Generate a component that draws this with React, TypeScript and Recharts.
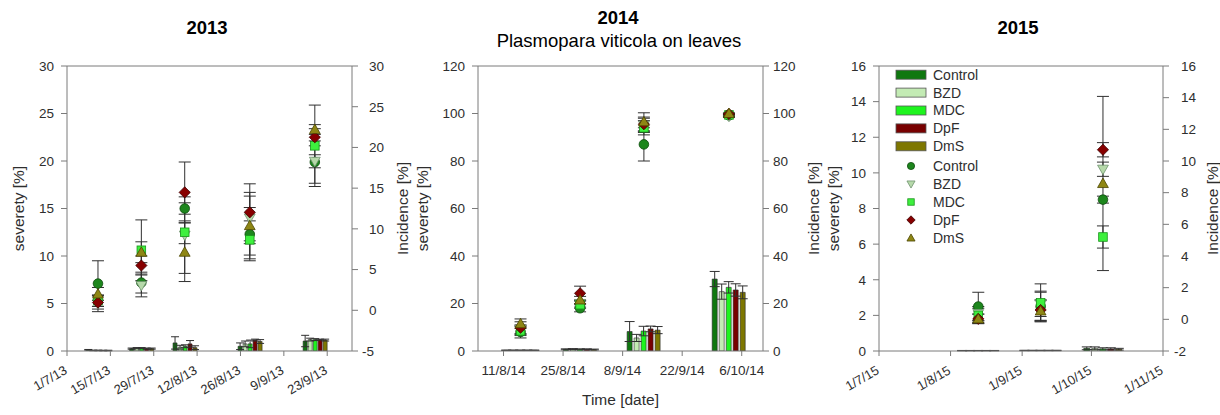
import {
  ComposedChart,
  Bar,
  Scatter,
  XAxis,
  YAxis,
  ErrorBar,
  ReferenceLine,
} from "recharts";

const FONT = "'Liberation Sans', Arial, Helvetica, sans-serif";
const AXIS = "#7a7a7a";
const TEXT = "#2e2e2e";
const ERR = "#303030";

const treatments = ["Control", "BZD", "MDC", "DpF", "DmS"];
const barFill = ["#0f780f", "#c3ebb4", "#1ef41e", "#780000", "#7e7700"];
const dotFill = ["#1d861d", "#b6d9aa", "#3ef03e", "#870000", "#8e8614"];
const dotStroke = ["#0c4a0c", "#6f926f", "#18931a", "#3d0000", "#4a4500"];
const dotShape = ["circle", "down", "square", "diamond", "up"];

// ---- 2013 ----
const dates2013 = ["2013-07-11", "2013-07-25", "2013-08-08", "2013-08-29", "2013-09-19"];
const ticks2013 = ["2013-07-01", "2013-07-15", "2013-07-29", "2013-08-12", "2013-08-26", "2013-09-09", "2013-09-23"];
const range2013 = ["2013-07-01", "2013-10-01"];
const sevTicks2013 = [0, 5, 10, 15, 20, 25, 30];
const incTicks2013 = [-5, 0, 5, 10, 15, 20, 25, 30];
const severity2013 = [
  [0.12, 0.25, 0.85, 0.5, 1.05],
  [0.06, 0.3, 0.4, 0.75, 1.2],
  [0.06, 0.3, 0.5, 0.75, 1.2],
  [0.05, 0.25, 0.75, 1.15, 1.2],
  [0.05, 0.25, 0.35, 1.0, 1.15],
];
const severityErr2013 = [
  [0.04, 0.06, 0.65, 0.35, 0.6],
  [0.03, 0.06, 0.2, 0.3, 0.15],
  [0.03, 0.06, 0.15, 0.4, 0.1],
  [0.03, 0.06, 0.35, 0.1, 0.05],
  [0.03, 0.06, 0.2, 0.2, 0.1],
];
const incidence2013 = [
  [3.28, 3.4, 12.5, 9.35, 18.2],
  [0.83, 3.05, 9.23, 11.33, 18.3],
  [1.18, 7.37, 9.58, 8.65, 20.2],
  [0.95, 5.5, 14.48, 12.03, 21.25],
  [2.0, 7.13, 7.13, 10.4, 22.2],
];
const incidenceErr2013 = [
  [2.8, 1.28, 0.7, 3.27, 2.6],
  [1.0, 1.4, 4.7, 3.15, 0.8],
  [0.7, 3.73, 1.4, 2.33, 5.0],
  [0.8, 1.17, 3.73, 3.5, 1.05],
  [0.8, 1.28, 3.6, 3.62, 0.6],
];

// ---- 2014 ----
const dates2014 = ["2014-08-15", "2014-08-29", "2014-09-13", "2014-10-03"];
const ticks2014 = ["2014-08-11", "2014-08-25", "2014-09-08", "2014-09-22", "2014-10-06"];
const range2014 = ["2014-08-05", "2014-10-11"];
const sevTicks2014 = [0, 20, 40, 60, 80, 100, 120];
const incTicks2014 = [0, 20, 40, 60, 80, 100, 120];
const severity2014 = [
  [0.3, 0.7, 8.2, 30.3],
  [0.3, 0.8, 5.5, 25.0],
  [0.3, 0.7, 8.4, 26.8],
  [0.3, 0.7, 9.3, 25.7],
  [0.3, 0.6, 8.8, 24.7],
];
const severityErr2014 = [
  [0.1, 0.2, 4.2, 3.2],
  [0.1, 0.2, 1.5, 3.2],
  [0.1, 0.2, 2.0, 2.4],
  [0.1, 0.2, 1.2, 2.6],
  [0.1, 0.2, 1.5, 2.7],
];
const incidence2014 = [
  [8.0, 18.0, 87.0, 99.2],
  [9.0, 20.0, 95.0, 98.8],
  [8.5, 19.5, 94.0, 99.4],
  [9.8, 24.3, 95.5, 99.8],
  [11.5, 21.5, 96.5, 100],
];
const incidenceErr2014 = [
  [2.5, 1.5, 7.0, 0.5],
  [2.0, 1.5, 3.0, 0.5],
  [2.0, 1.5, 3.0, 0.5],
  [2.5, 3.0, 3.0, 0.4],
  [2.0, 1.5, 3.8, 0.3],
];

// ---- 2015 ----
const dates2015 = ["2015-08-13", "2015-09-09", "2015-10-06"];
const ticks2015 = ["2015-07-01", "2015-08-01", "2015-09-01", "2015-10-01", "2015-11-01"];
const range2015 = ["2015-07-01", "2015-11-01"];
const sevTicks2015 = [0, 2, 4, 6, 8, 10, 12, 14, 16];
const incTicks2015 = [-2, 0, 2, 4, 6, 8, 10, 12, 14, 16];
const severity2015 = [
  [0.02, 0.03, 0.15],
  [0.02, 0.03, 0.15],
  [0.02, 0.03, 0.12],
  [0.02, 0.03, 0.12],
  [0.02, 0.03, 0.1],
];
const severityErr2015 = [
  [0.01, 0.01, 0.08],
  [0.01, 0.01, 0.08],
  [0.01, 0.01, 0.06],
  [0.01, 0.01, 0.06],
  [0.01, 0.01, 0.05],
];
const incidence2015 = [
  [0.81, 0.81, 7.56],
  [0.36, 0.98, 9.48],
  [0.25, 1.04, 5.2],
  [0.03, 0.59, 10.71],
  [0.03, 0.53, 8.58],
];
const incidenceErr2015 = [
  [0.9, 0.9, 0.22],
  [0.45, 0.8, 0.45],
  [0.45, 1.2, 0.7],
  [0.3, 0.65, 0.45],
  [0.3, 0.65, 5.5],
];

const toTime = (s: string) => Date.parse(s + "T00:00:00Z");
const fmtDate = (t: number) => {
  const d = new Date(t);
  return `${d.getUTCDate()}/${d.getUTCMonth() + 1}/${String(d.getUTCFullYear()).slice(2)}`;
};

function buildRows(dates: string[], sev: number[][], sevErr: number[][], inc: number[][], incErr: number[][]) {
  return dates.map((d, i) => {
    const row: any = { date: toTime(d) };
    treatments.forEach((t, k) => {
      row["sev" + t] = sev[k][i];
      row["sevErr" + t] = sevErr[k][i];
      row["inc" + t] = inc[k][i];
      row["incErr" + t] = incErr[k][i];
    });
    return row;
  });
}

function Marker({ kind, cx, cy, fill, stroke, s = 1 }: any) {
  if (cx == null || cy == null) return null;
  const common = { fill, stroke, strokeWidth: 0.8 };
  if (kind === "circle") return <circle cx={cx} cy={cy} r={4.8 * s} {...common} />;
  if (kind === "square") {
    const h = 4.3 * s;
    return <rect x={cx - h} y={cy - h} width={2 * h} height={2 * h} {...common} />;
  }
  if (kind === "diamond") {
    const h = 5.6 * s;
    return <polygon points={`${cx},${cy - h} ${cx + h},${cy} ${cx},${cy + h} ${cx - h},${cy}`} {...common} />;
  }
  if (kind === "up") {
    const h = 5.4 * s;
    return <polygon points={`${cx},${cy - h} ${cx + h},${cy + h * 0.75} ${cx - h},${cy + h * 0.75}`} {...common} />;
  }
  const h = 5.4 * s;
  return <polygon points={`${cx},${cy + h} ${cx + h},${cy - h * 0.75} ${cx - h},${cy - h * 0.75}`} {...common} />;
}

function SlantTick(props: any) {
  const { x, y, payload } = props;
  const tx = x + 1;
  const ty = y + 15;
  return (
    <text x={tx} y={ty} textAnchor="end" transform={`rotate(-30 ${tx} ${ty})`} fill={TEXT} fontSize={13} fontFamily={FONT}>
      {fmtDate(payload.value)}
    </text>
  );
}

function RightTick(props: any) {
  const { x, y, payload } = props;
  const v = payload.value;
  return (
    <text x={v < 0 ? x - 7 : x} y={y} dy="0.355em" textAnchor="start" fill={TEXT} fontSize={13.5} fontFamily={FONT}>
      {v}
    </text>
  );
}

const labelStyle = { textAnchor: "middle", fontSize: 15.5, fill: TEXT, fontFamily: FONT } as any;

function Panel(p: any) {
  const rows = buildRows(p.dates, p.sev, p.sevErr, p.inc, p.incErr);
  const sevMax = p.sevTicks[p.sevTicks.length - 1];
  const incDomain = [p.incTicks[0], p.incTicks[p.incTicks.length - 1]];
  return (
    <div style={{ position: "absolute", left: p.left, top: 0 }}>
      <ComposedChart
        width={p.width}
        height={415}
        data={rows}
        margin={p.margin}
        barGap={p.barGap}
        style={{ fontFamily: FONT }}
      >
        <XAxis
          dataKey="date"
          type="number"
          domain={[toTime(p.range[0]), toTime(p.range[1])]}
          ticks={p.ticks.map(toTime)}
          interval={0}
          allowDataOverflow
          height={40}
          axisLine={{ stroke: AXIS }}
          tickLine={{ stroke: AXIS }}
          tickSize={5}
          tickMargin={p.slanted ? 2 : 9}
          tick={
            p.slanted
              ? (tp: any) => <SlantTick {...tp} />
              : { fill: TEXT, fontSize: 13.5, fontFamily: FONT }
          }
          tickFormatter={fmtDate}
          label={
            p.xLabel
              ? { value: p.xLabel, position: "bottom", offset: 3, style: labelStyle }
              : undefined
          }
        />
        <YAxis
          yAxisId="left"
          width={45}
          domain={[0, sevMax]}
          ticks={p.sevTicks}
          interval={0}
          allowDataOverflow
          axisLine={{ stroke: AXIS }}
          tickLine={{ stroke: AXIS }}
          tickSize={6}
          tickMargin={7}
          tick={{ fill: TEXT, fontSize: 13.5, fontFamily: FONT }}
          label={{
            value: "severety [%]",
            angle: -90,
            position: "insideLeft",
            offset: p.leftLabelOffset,
            style: labelStyle,
          }}
        />
        <YAxis
          yAxisId="right"
          orientation="right"
          width={p.rightW}
          domain={incDomain}
          ticks={p.incTicks}
          interval={0}
          allowDataOverflow
          axisLine={{ stroke: AXIS }}
          tickLine={{ stroke: AXIS }}
          tickSize={6}
          tickMargin={p.rightTickMargin}
          tick={(tp: any) => <RightTick {...tp} />}
          label={{
            value: "Incidence [%]",
            angle: -90,
            position: "insideLeft",
            offset: p.rightLabelOffset,
            style: labelStyle,
          }}
        />
        <ReferenceLine yAxisId="left" y={sevMax} stroke={AXIS} />
        {treatments.map((t, k) => (
          <Bar
            key={"bar" + t}
            yAxisId="left"
            dataKey={"sev" + t}
            name={t}
            fill={barFill[k]}
            stroke="#262626"
            strokeWidth={0.6}
            barSize={p.barSize}
            isAnimationActive={false}
          >
            <ErrorBar dataKey={"sevErr" + t} width={p.barCap} stroke={ERR} strokeWidth={1} />
          </Bar>
        ))}
        {treatments.map((t, k) => (
          <Scatter
            key={"dot" + t}
            yAxisId="right"
            dataKey={"inc" + t}
            name={t}
            isAnimationActive={false}
            shape={(sp: any) => (
              <Marker kind={dotShape[k]} cx={sp.cx} cy={sp.cy} fill={dotFill[k]} stroke={dotStroke[k]} />
            )}
          >
            <ErrorBar dataKey={"incErr" + t} direction="y" width={6} stroke={ERR} strokeWidth={1} />
          </Scatter>
        ))}
      </ComposedChart>
    </div>
  );
}

function LegendBox() {
  const rowH = 17.9;
  return (
    <svg style={{ position: "absolute", left: 890, top: 60 }} width={130} height={190}>
      {treatments.map((t, k) => (
        <g key={"lb" + t}>
          <rect x={6} y={14.7 + k * rowH - 4.5} width={30} height={9} fill={barFill[k]} stroke="#555" strokeWidth={0.8} />
          <text x={43} y={14.7 + k * rowH} dy="0.355em" fontSize={14} fill={TEXT} fontFamily={FONT}>
            {t}
          </text>
        </g>
      ))}
      {treatments.map((t, k) => (
        <g key={"ld" + t}>
          <Marker kind={dotShape[k]} cx={21} cy={106 + k * 18} fill={dotFill[k]} stroke={dotStroke[k]} s={0.75} />
          <text x={43} y={106 + k * 18} dy="0.355em" fontSize={14} fill={TEXT} fontFamily={FONT}>
            {t}
          </text>
        </g>
      ))}
    </svg>
  );
}

function Title({ x, y, text, bold }: any) {
  return (
    <div
      style={{
        position: "absolute",
        left: x - 200,
        top: y - 11,
        width: 400,
        textAlign: "center",
        fontFamily: FONT,
        fontSize: 18.5,
        lineHeight: "22px",
        fontWeight: bold ? "bold" : "normal",
        color: "#000",
      }}
    >
      {text}
    </div>
  );
}

export default function App() {
  return (
    <div style={{ position: "absolute", left: 0, top: 0, width: 1220, height: 415, background: "#fff", overflow: "hidden" }}>
      <Panel
        left={0}
        width={440}
        margin={{ top: 66, right: 18, bottom: 24, left: 22 }}
        rightW={70}
        leftLabelOffset={-4}
        rightLabelOffset={50}
        rightTickMargin={11}
        slanted
        barSize={4}
        barGap={1}
        barCap={4}
        dates={dates2013}
        ticks={ticks2013}
        range={range2013}
        sevTicks={sevTicks2013}
        incTicks={incTicks2013}
        sev={severity2013}
        sevErr={severityErr2013}
        inc={incidence2013}
        incErr={incidenceErr2013}
      />
      <Panel
        left={410}
        width={440}
        margin={{ top: 66, right: 17, bottom: 24, left: 23 }}
        rightW={70}
        leftLabelOffset={-11}
        rightLabelOffset={50}
        rightTickMargin={4}
        slanted={false}
        barSize={5}
        barGap={2}
        barCap={5}
        xLabel="Time [date]"
        dates={dates2014}
        ticks={ticks2014}
        range={range2014}
        sevTicks={sevTicks2014}
        incTicks={incTicks2014}
        sev={severity2014}
        sevErr={severityErr2014}
        inc={incidence2014}
        incErr={incidenceErr2014}
      />
      <Panel
        left={820}
        width={400}
        margin={{ top: 66, right: 2, bottom: 24, left: 14 }}
        rightW={55}
        leftLabelOffset={-1}
        rightLabelOffset={49}
        rightTickMargin={12}
        slanted
        barSize={6}
        barGap={2}
        barCap={5}
        dates={dates2015}
        ticks={ticks2015}
        range={range2015}
        sevTicks={sevTicks2015}
        incTicks={incTicks2015}
        sev={severity2015}
        sevErr={severityErr2015}
        inc={incidence2015}
        incErr={incidenceErr2015}
      />
      <LegendBox />
      <Title x={207} y={28} text="2013" bold />
      <Title x={618} y={18} text="2014" bold />
      <Title x={619} y={41} text="Plasmopara viticola on leaves" />
      <Title x={1018} y={28} text="2015" bold />
    </div>
  );
}
